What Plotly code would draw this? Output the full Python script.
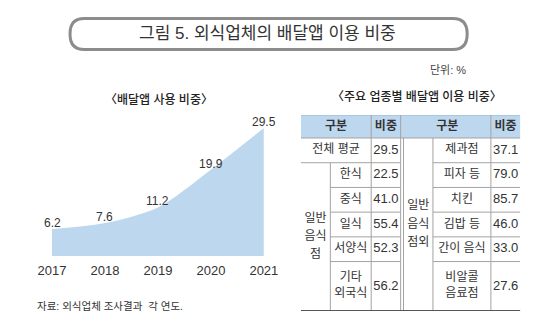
import plotly.graph_objects as go

# ---------------- data ----------------
years = [2017, 2018, 2019, 2020, 2021]
usage = [6.2, 7.6, 11.2, 19.9, 29.5]

header_labels = ["구분", "비중", "구분", "비중"]
total_label = "전체 평균"
total_value = 29.5
rest_group = ["일반", "음식", "점"]
rest_items = ["한식", "중식", "일식", "서양식", "기타<br>외국식"]
rest_values = [22.5, 41.0, 55.4, 52.3, 56.2]
other_group = ["일반", "음식", "점외"]
other_items = ["제과점", "피자 등", "치킨", "김밥 등", "간이 음식", "비알콜<br>음료점"]
other_values = [37.1, 79.0, 85.7, 46.0, 33.0, 27.6]

title_text = "그림 5. 외식업체의 배달앱 이용 비중"
unit_text = "단위: %"
left_sub = "〈배달앱 사용 비중〉"
right_sub = "〈주요 업종별 배달앱 이용 비중〉"
source_text = "자료: 외식업체 조사결과  각 연도."

# ---------------- layout helpers ----------------
W, H = 560, 336
def px(x):
    return x / W
def py(y):
    return 1 - y / H

FONT = "Liberation Sans, Noto Sans CJK KR, sans-serif"
TXT = "#333333"
BLUE = "#bdd7ee"
GRID = "#a3a3a3"

fig = go.Figure()

# ---------------- area chart ----------------
fig.add_trace(go.Scatter(
    x=years, y=usage, mode="lines",
    line=dict(shape="spline", smoothing=0.8, width=0, color=BLUE),
    fill="tozeroy", fillcolor=BLUE,
    hoverinfo="skip", showlegend=False,
    xaxis="x", yaxis="y",
))

annotations = []
for yr, v in zip(years, usage):
    annotations.append(dict(text=f"{v:.1f}", x=yr, y=v, xref="x", yref="y",
                            showarrow=False, xanchor="center", yanchor="middle",
                            yshift=6, font=dict(family=FONT, size=12, color=TXT)))

# ---------------- table geometry ----------------
col_w = [31, 43, 31, 3, 31, 61, 31]
cols = [0]
for w in col_w:
    cols.append(cols[-1] + w)
header_h = 23
row_h = 24.7
row_units = [1, 1, 1, 1, 1, 2]
rows = [0, header_h]
for u in row_units:
    rows.append(rows[-1] + u * row_h)
group_line_gap = 18.3

def cx(a, b):
    return (cols[a] + cols[b]) / 2
def cy(a, b):
    return (rows[a] + rows[b]) / 2

shapes = []
shapes.append(dict(type="rect", xref="x2", yref="y2", x0=cols[0], x1=cols[-1],
                   y0=rows[0], y1=rows[1], fillcolor=BLUE, line=dict(width=0), layer="below"))
def hline(y, xa, xb, color=GRID, width=1):
    shapes.append(dict(type="line", xref="x2", yref="y2", x0=xa, x1=xb, y0=y, y1=y,
                       line=dict(color=color, width=width)))
def vline(x, ya, yb, color=GRID, width=1):
    shapes.append(dict(type="line", xref="x2", yref="y2", x0=x, x1=x, y0=ya, y1=yb,
                       line=dict(color=color, width=width)))

hline(rows[0], cols[0], cols[-1], color="#9fb6c9")
hline(rows[1], cols[0], cols[-1])
hline(rows[2], cols[0], cols[3])
for r in range(3, 7):
    hline(rows[r], cols[1], cols[3])
for r in range(2, 7):
    hline(rows[r], cols[5], cols[7])
vline(cols[1], rows[2], rows[-1])
vline(cols[2], rows[0], rows[-1])
vline(cols[3], rows[0], rows[-1])
vline(cols[4], rows[1], rows[-1])
vline(cols[5], rows[1], rows[-1])
vline(cols[6], rows[0], rows[-1])
hline(rows[-1], cols[0], cols[-1], color="#555555", width=2)

lab_x, lab_y, lab_t = [], [], []
val_x, val_y, val_t = [], [], []

head_x = [cx(0, 2), cx(2, 3), cx(4, 6), cx(6, 7)]
for hx, ht in zip(head_x, header_labels):
    lab_x.append(hx); lab_y.append(cy(0, 1)); lab_t.append(f"<b>{ht}</b>")

lab_x.append(cx(0, 2)); lab_y.append(cy(1, 2)); lab_t.append(total_label)
val_x.append(cx(2, 3)); val_y.append(cy(1, 2)); val_t.append(f"{total_value:.1f}")

def add_group(lines, xc, yc):
    n = len(lines)
    for k, ln in enumerate(lines):
        lab_x.append(xc)
        lab_y.append(yc + (k - (n - 1) / 2) * group_line_gap)
        lab_t.append(ln)

add_group(rest_group, cx(0, 1), cy(2, 7))
for i, (it, v) in enumerate(zip(rest_items, rest_values)):
    lab_x.append(cx(1, 2)); lab_y.append(cy(i + 2, i + 3)); lab_t.append(it)
    val_x.append(cx(2, 3)); val_y.append(cy(i + 2, i + 3)); val_t.append(f"{v:.1f}")

add_group(other_group, cx(4, 5), cy(1, 7))
for i, (it, v) in enumerate(zip(other_items, other_values)):
    lab_x.append(cx(5, 6)); lab_y.append(cy(i + 1, i + 2)); lab_t.append(it)
    val_x.append(cx(6, 7)); val_y.append(cy(i + 1, i + 2)); val_t.append(f"{v:.1f}")

fig.add_trace(go.Scatter(
    x=lab_x, y=lab_y, text=lab_t, mode="text", textposition="middle center",
    textfont=dict(family=FONT, size=12, color=TXT),
    hoverinfo="skip", showlegend=False, xaxis="x2", yaxis="y2", cliponaxis=False,
))
fig.add_trace(go.Scatter(
    x=val_x, y=val_y, text=val_t, mode="text", textposition="middle center",
    textfont=dict(family=FONT, size=13, color=TXT),
    hoverinfo="skip", showlegend=False, xaxis="x2", yaxis="y2", cliponaxis=False,
))

# ---------------- title box ----------------
def rounded_path(x0, y0, x1, y1, r):
    pts = [
        ("M", [(x0 + r, y0)]),
        ("L", [(x1 - r, y0)]),
        ("Q", [(x1, y0), (x1, y0 + r)]),
        ("L", [(x1, y1 - r)]),
        ("Q", [(x1, y1), (x1 - r, y1)]),
        ("L", [(x0 + r, y1)]),
        ("Q", [(x0, y1), (x0, y1 - r)]),
        ("L", [(x0, y0 + r)]),
        ("Q", [(x0, y0), (x0 + r, y0)]),
    ]
    s = ""
    for cmd, ps in pts:
        s += cmd + " " + " ".join(f"{px(a):.5f},{py(b):.5f}" for a, b in ps) + " "
    return s + "Z"

shapes.append(dict(type="path", xref="paper", yref="paper",
                   path=rounded_path(59, 18.5, 477, 49.5, 15),
                   line=dict(color="#8c8c8c", width=3), fillcolor="white"))

annotations += [
    dict(text=title_text, x=px(267), y=py(34), xref="paper", yref="paper",
         showarrow=False, xanchor="center", yanchor="middle",
         font=dict(family=FONT, size=17, color=TXT)),
    dict(text=unit_text, x=px(478), y=py(70), xref="paper", yref="paper",
         showarrow=False, xanchor="right", yanchor="middle",
         font=dict(family=FONT, size=11, color="#444444")),
    dict(text=left_sub, x=px(153), y=py(100), xref="paper", yref="paper",
         showarrow=False, xanchor="center", yanchor="middle",
         font=dict(family=FONT, size=12, color="#222222", weight=500)),
    dict(text=right_sub, x=px(424), y=py(97), xref="paper", yref="paper",
         showarrow=False, xanchor="center", yanchor="middle",
         font=dict(family=FONT, size=12, color="#222222", weight=500)),
    dict(text=source_text, x=px(22), y=py(306), xref="paper", yref="paper",
         showarrow=False, xanchor="left", yanchor="middle",
         font=dict(family=FONT, size=10.5, color=TXT)),
]

y_scale = 128 / 29.5
fig.update_layout(
    width=W, height=H, margin=dict(l=0, r=0, t=0, b=0),
    paper_bgcolor="white", plot_bgcolor="white",
    xaxis=dict(domain=[px(40), px(263)], range=[2017, 2021], tickvals=years,
               ticktext=[str(y) for y in years], showgrid=False, zeroline=False,
               showline=False, ticks="", ticklabelstandoff=5,
               tickfont=dict(family=FONT, size=13, color=TXT),
               fixedrange=True),
    yaxis=dict(domain=[py(256), py(110)], range=[0, (256 - 110) / y_scale],
               visible=False, fixedrange=True),
    xaxis2=dict(domain=[px(302), px(533)], range=[cols[0], cols[-1]], visible=False,
                anchor="y2", fixedrange=True),
    yaxis2=dict(domain=[py(311), py(115)], range=[rows[-1], rows[0]], visible=False,
                anchor="x2", fixedrange=True),
    shapes=shapes, annotations=annotations, showlegend=False,
)

fig.write_html("out.html")
